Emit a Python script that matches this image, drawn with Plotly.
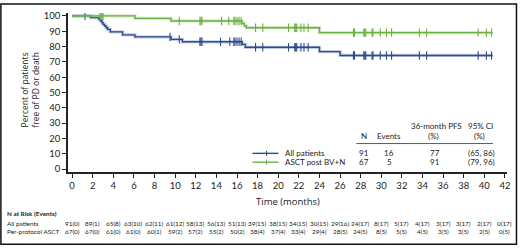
import numpy as np
import plotly.graph_objects as go

# ---------------- data ----------------
all_event_t = [0, 1.8, 2.6, 2.75, 2.9, 3.0, 3.15, 3.3, 3.45, 3.7, 4.9, 6.1, 9.6, 10.7, 16.5, 16.8, 24.0, 26.0, 40.8]
all_surv    = [100, 98.9, 97.8, 96.7, 95.6, 94.5, 93.4, 92.3, 91.2, 89.6, 87.6, 86.3, 84.7, 83.1, 81.4, 79.5, 76.7, 74.2, 74.2]
all_censor  = [1.25, 9.5, 10.4, 12.4, 12.5, 12.6, 14.4, 15.3, 15.7, 15.8, 16.0, 16.2, 16.4,
               17.8, 18.5, 21.0, 21.6, 21.7, 21.8, 22.2, 22.5, 22.9, 27.3, 27.4, 28.3, 28.4, 28.5,
               29.1, 29.2, 29.9, 30.5, 31.0, 33.7, 34.4, 39.4, 40.2, 40.7]

asct_event_t = [0, 6.1, 9.6, 16.5, 16.7, 16.9, 24.0, 40.8]
asct_surv    = [100, 98.4, 96.7, 95.1, 93.6, 92.3, 89.1, 89.1]
asct_censor  = [2.7, 2.8, 2.9, 3.0, 10.4, 12.4, 12.5, 12.6, 14.5, 15.2, 15.7, 15.8, 16.0, 16.2, 16.4,
                17.8, 18.5, 21.0, 21.6, 21.7, 21.8, 22.2, 22.5, 22.9, 27.3, 27.4, 28.3, 28.4, 28.5,
                29.1, 29.2, 29.9, 30.5, 31.0, 33.7, 34.4, 39.4, 40.2, 40.7]

series_names = ["All patients", "ASCT post BV+N"]
table_n      = ["91", "67"]
table_events = ["16", "5"]
table_pfs    = ["77", "91"]
table_ci     = ["(65, 86)", "(79, 96)"]

risk_months = list(range(0, 43, 2))
risk_labels = ["All patients", "Per-protocol ASCT"]
risk_all  = ["91(0)", "89(1)", "65(8)", "63(10)", "62(11)", "61(12)", "58(13)", "56(13)", "51(13)", "39(15)", "38(15)",
             "34(15)", "30(15)", "29(16)", "24(17)", "8(17)", "5(17)", "4(17)", "3(17)", "3(17)", "2(17)", "0(17)"]
risk_asct = ["67(0)", "67(0)", "61(0)", "61(0)", "60(1)", "59(2)", "57(2)", "55(2)", "50(2)", "38(4)", "37(4)",
             "33(4)", "29(4)", "28(5)", "24(5)", "8(5)", "5(5)", "4(5)", "3(5)", "3(5)", "2(5)", "0(5)"]

x_ticks = list(range(0, 43, 2))
y_ticks = list(range(0, 101, 10))

# ---------------- style ----------------
BLUE = "#2D4A8A"
GREEN = "#6BB13F"
BLUE_HALO = "rgba(120,145,195,0.45)"
GREEN_HALO = "rgba(160,205,130,0.45)"
FONT = "Lato"
W, H = 520, 248
ML, MR, MT, MB = 68, 12, 10, 76
PW, PH = W - ML - MR, H - MT - MB


def px(x):
    return (x - ML) / PW


def py(y):
    return (H - MB - y) / PH


def surv_at(ts, ss, t):
    i = np.searchsorted(np.array(ts), t, side="right") - 1
    return ss[max(i, 0)]


fig = go.Figure()
for ts, ss, cens, col, halo, name in [
    (all_event_t, all_surv, all_censor, BLUE, BLUE_HALO, series_names[0]),
    (asct_event_t, asct_surv, asct_censor, GREEN, GREEN_HALO, series_names[1]),
]:
    fig.add_trace(go.Scatter(x=ts, y=ss, mode="lines", line=dict(shape="hv", color=halo, width=3.2),
                             showlegend=False, hoverinfo="skip"))
    fig.add_trace(go.Scatter(x=ts, y=ss, mode="lines", line=dict(shape="hv", color=col, width=1.4),
                             name=name, showlegend=False))
    fig.add_trace(go.Scatter(x=cens, y=[surv_at(ts, ss, c) for c in cens], mode="markers",
                             marker=dict(symbol="line-ns", size=6, line=dict(color=col, width=1.1)),
                             showlegend=False, hoverinfo="skip"))

ann = []
shapes = []
# legend / table inside plot
tf = dict(family=FONT, size=8, color="#222")
ann.append(dict(x=px(437), y=py(125), text="36-month PFS", xanchor="center", yanchor="middle"))
ann.append(dict(x=px(481), y=py(125), text="95% CI", xanchor="center", yanchor="middle"))
ann.append(dict(x=px(365), y=py(135), text="N", xanchor="center", yanchor="middle"))
ann.append(dict(x=px(390), y=py(135), text="Events", xanchor="center", yanchor="middle"))
ann.append(dict(x=px(434), y=py(135), text="(%)", xanchor="center", yanchor="middle"))
ann.append(dict(x=px(480), y=py(135), text="(%)", xanchor="center", yanchor="middle"))
shapes.append(dict(type="line", xref="paper", yref="paper", x0=px(357), x1=px(494), y0=py(143), y1=py(143),
                   line=dict(color="#333", width=0.8)))
row_y = [153, 162]
cols = [BLUE, GREEN]
for i in range(2):
    yy = py(row_y[i])
    shapes.append(dict(type="line", xref="paper", yref="paper", x0=px(253), x1=px(279), y0=yy, y1=yy,
                       line=dict(color=cols[i], width=1.4)))
    shapes.append(dict(type="line", xref="paper", yref="paper", x0=px(267), x1=px(267), y0=py(row_y[i] - 2.5),
                       y1=py(row_y[i] + 2.5), line=dict(color=cols[i], width=1.1)))
    ann.append(dict(x=px(283), y=yy, text=series_names[i], xanchor="left", yanchor="middle"))
    ann.append(dict(x=px(365), y=yy, text=table_n[i], xanchor="center", yanchor="middle"))
    ann.append(dict(x=px(390), y=yy, text=table_events[i], xanchor="center", yanchor="middle"))
    ann.append(dict(x=px(436), y=yy, text=table_pfs[i], xanchor="center", yanchor="middle"))
    ann.append(dict(x=px(482), y=yy, text=table_ci[i], xanchor="center", yanchor="middle"))
for a in ann:
    a.update(xref="paper", yref="paper", showarrow=False, font=tf)

# y title
ann.append(dict(x=px(29), y=py(88), xref="paper", yref="paper", showarrow=False, textangle=-90,
                text="Percent of patients<br>free of PD or death", xanchor="center", yanchor="middle",
                font=dict(family="Open Sans", size=8.5, color="#222")))
# x title
ann.append(dict(x=px(289), y=py(202), xref="paper", yref="paper", showarrow=False,
                text="Time (months)", xanchor="center", yanchor="middle",
                font=dict(family="Open Sans", size=9.5, color="#222")))

# risk table
rf = dict(family=FONT, size=6.4, color="#222")
ann.append(dict(x=px(5), y=py(214), xref="paper", yref="paper", showarrow=False, text="<b>N at Risk (Events)</b>",
                xanchor="left", yanchor="middle", font=rf))
for j, (lab, vals) in enumerate(zip(risk_labels, [risk_all, risk_asct])):
    yy = py(224 + 9 * j)
    ann.append(dict(x=px(5), y=yy, xref="paper", yref="paper", showarrow=False, text=lab,
                    xanchor="left", yanchor="middle", font=rf))
    for m, v in zip(risk_months, vals):
        ann.append(dict(x=m, y=yy, xref="x", yref="paper", showarrow=False, text=v,
                        xanchor="center", yanchor="middle", font=rf))

# frame
shapes.append(dict(type="rect", xref="paper", yref="paper", x0=px(0.75), x1=px(517.5), y0=py(0.75), y1=py(245.5),
                   line=dict(color="#111", width=1.5), layer="below"))

fig.update_layout(
    width=W, height=H, margin=dict(l=ML, r=MR, t=MT, b=MB),
    paper_bgcolor="white", plot_bgcolor="white",
    annotations=ann, shapes=shapes, showlegend=False,
    xaxis=dict(range=[-0.4, 42.2], tickvals=x_ticks, ticks="outside", ticklen=4, tickwidth=1.2,
               tickcolor="#222", showline=True, linecolor="#222", linewidth=1.8, showgrid=False,
               zeroline=False, tickfont=dict(family=FONT, size=9.5, color="#222")),
    yaxis=dict(range=[-1.9, 101.9], tickvals=y_ticks, ticks="outside", ticklen=4, tickwidth=1.2,
               tickcolor="#222", showline=True, linecolor="#222", linewidth=1.8, showgrid=False,
               zeroline=False, tickfont=dict(family=FONT, size=9.5, color="#222")),
)
fig.write_html("out.html", config={"displayModeBar": False},
               post_script="document.body.style.margin='0';document.body.style.overflow='hidden';")
